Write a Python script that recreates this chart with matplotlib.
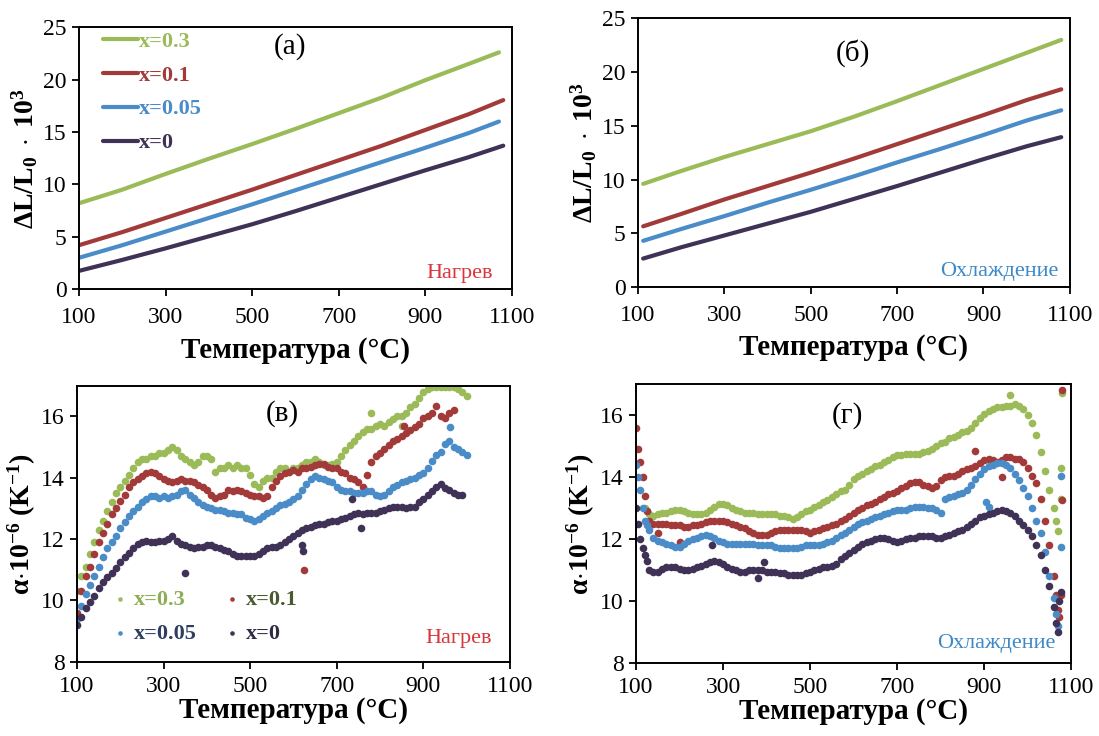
import matplotlib
matplotlib.use('Agg')
import matplotlib.pyplot as plt
import numpy as np

plt.rcParams['font.family'] = ['Liberation Serif', 'DejaVu Serif']
plt.rcParams['mathtext.fontset'] = 'custom'
plt.rcParams['mathtext.rm'] = 'Liberation Serif'
plt.rcParams['mathtext.it'] = 'Liberation Serif:italic'
plt.rcParams['mathtext.bf'] = 'Liberation Serif:bold'

# ---------------- data ----------------
labels = ['x=0.3', 'x=0.1', 'x=0.05', 'x=0']
colors = ['#9BBB59', '#A33A3A', '#4A8CC8', '#3F3256']

# (а) heating dilatometry, (T, dL/L0*1e3)
a_x03 = [(100, 8.2), (200, 9.5), (300, 11.0), (400, 12.45), (500, 13.85), (600, 15.3), (700, 16.8), (800, 18.3), (900, 19.95), (1000, 21.5), (1070, 22.6)]
a_x01 = [(100, 4.2), (200, 5.45), (300, 6.8), (400, 8.15), (500, 9.5), (600, 10.9), (700, 12.3), (800, 13.7), (900, 15.2), (1000, 16.7), (1080, 18.05)]
a_x005 = [(100, 3.0), (200, 4.2), (300, 5.5), (400, 6.8), (500, 8.1), (600, 9.45), (700, 10.8), (800, 12.15), (900, 13.5), (1000, 14.9), (1070, 16.0)]
a_x0 = [(100, 1.75), (200, 2.8), (300, 3.9), (400, 5.05), (500, 6.2), (600, 7.45), (700, 8.75), (800, 10.05), (900, 11.35), (1000, 12.6), (1080, 13.7)]

# (б) cooling dilatometry
b_x03 = [(112, 9.6), (200, 10.8), (300, 12.1), (400, 13.3), (500, 14.5), (600, 15.85), (700, 17.3), (800, 18.8), (900, 20.3), (1000, 21.8), (1080, 23.0)]
b_x01 = [(112, 5.65), (200, 6.8), (300, 8.15), (400, 9.4), (500, 10.65), (600, 11.95), (700, 13.3), (800, 14.65), (900, 16.0), (1000, 17.4), (1080, 18.4)]
b_x005 = [(112, 4.3), (200, 5.4), (300, 6.6), (400, 7.85), (500, 9.05), (600, 10.3), (700, 11.6), (800, 12.85), (900, 14.15), (1000, 15.5), (1080, 16.45)]
b_x0 = [(112, 2.65), (200, 3.7), (300, 4.8), (400, 5.9), (500, 7.0), (600, 8.2), (700, 9.4), (800, 10.65), (900, 11.9), (1000, 13.1), (1080, 13.95)]

# (в) heating CTE, sampled temperatures
heat_T = [100, 110, 120, 130, 140, 150, 160, 170, 180, 190, 200, 210, 220, 230, 240, 250, 260, 270, 280, 290,
          300, 310, 320, 330, 340, 350, 360, 370, 380, 390, 400, 410, 420, 430, 440, 450, 460, 470, 480, 490,
          500, 510, 520, 530, 540, 550, 560, 570, 580, 590, 600, 610, 620, 630, 640, 650, 660, 670, 680, 690,
          700, 710, 720, 730, 740, 750, 760, 770, 780, 790, 800, 810, 820, 830, 840, 850, 860, 870, 880, 890,
          900, 910, 920, 930, 940, 950, 960, 970, 980, 990, 1000]
v_x03 = [10.3, 10.8, 11.1, 11.5, 11.9, 12.3, 12.6, 12.9, 13.2, 13.5, 13.7, 13.9, 14.1, 14.3, 14.5, 14.6, 14.6, 14.7, 14.7, 14.8,
         14.8, 14.9, 15.0, 14.9, 14.7, 14.6, 14.5, 14.4, 14.5, 14.7, 14.7, 14.6, 14.2, 14.3, 14.3, 14.4, 14.3, 14.4, 14.3, 14.3,
         14.1, 13.8, 13.7, 13.9, 14.0, 14.0, 14.2, 14.3, 14.3, 14.2, 14.3, 14.3, 14.4, 14.5, 14.5, 14.6, 14.5, 14.4, 14.4, 14.45,
         14.5, 14.7, 14.9, 15.05, 15.2, 15.35, 15.5, 15.6, 15.6, 15.7, 15.75, 15.7, 15.8, 15.9, 16.0, 16.0, 16.1, 16.3, 16.4, 16.6,
         16.8, 16.9, 16.95, 16.95, 16.95, 16.95, 16.95, 16.95, 16.9, 16.8, 16.65]
v_x01 = [9.6, 10.3, 10.8, 11.1, 11.5, 11.9, 12.2, 12.5, 12.8, 13.0, 13.25, 13.45, 13.7, 13.85, 13.95, 14.05, 14.15, 14.2, 14.15, 14.05,
         13.95, 13.9, 13.85, 13.9, 13.95, 13.9, 13.9, 13.85, 13.75, 13.7, 13.6, 13.45, 13.35, 13.4, 13.45, 13.6, 13.55, 13.6, 13.55, 13.5,
         13.45, 13.4, 13.4, 13.35, 13.4, 13.7, 13.9, 14.05, 14.15, 14.2, 14.25, 14.2, 14.3, 14.3, 14.35, 14.4, 14.45, 14.45, 14.35, 14.3,
         14.3, 14.2, 14.15, 14.0, 13.95, 13.85, 13.7, 14.1, 14.5, 14.7, 14.8, 14.95, 15.05, 15.2, 15.25, 15.35, 15.45, 15.55, 15.65, 15.75,
         15.95, 16.0, 16.1, 16.35, 16.0, 15.95, 16.1, 16.2]
v_x005 = [9.4, 9.8, 10.2, 10.5, 10.8, 11.1, 11.4, 11.7, 11.9, 12.1, 12.35, 12.55, 12.75, 12.9, 13.05, 13.2, 13.3, 13.4, 13.4, 13.35,
          13.4, 13.35, 13.4, 13.45, 13.55, 13.6, 13.45, 13.35, 13.2, 13.1, 13.05, 13.0, 12.95, 12.95, 12.9, 12.85, 12.85, 12.8, 12.8, 12.7,
          12.65, 12.6, 12.65, 12.75, 12.85, 12.9, 13.0, 13.1, 13.15, 13.2, 13.3, 13.4, 13.6, 13.8, 13.95, 14.05, 14.0, 13.95, 13.9, 13.85,
          13.7, 13.6, 13.55, 13.55, 13.5, 13.5, 13.5, 13.55, 13.55, 13.45, 13.4, 13.45, 13.55, 13.7, 13.75, 13.85, 13.9, 13.95, 14.0, 14.1,
          14.15, 14.3, 14.55, 14.75, 14.85, 15.1, 15.2, 15.0, 14.95, 14.85, 14.75]
v_x0 = [9.2, 9.45, 9.75, 9.95, 10.15, 10.4, 10.6, 10.75, 10.9, 11.05, 11.25, 11.4, 11.55, 11.7, 11.85, 11.9, 11.95, 11.9, 11.9, 11.95,
        11.95, 12.0, 12.1, 11.95, 11.85, 11.8, 11.75, 11.7, 11.75, 11.75, 11.8, 11.8, 11.75, 11.7, 11.65, 11.6, 11.5, 11.45, 11.45, 11.45,
        11.45, 11.45, 11.5, 11.6, 11.7, 11.75, 11.75, 11.8, 11.9, 12.0, 12.1, 12.2, 12.3, 12.35, 12.4, 12.45, 12.5, 12.5, 12.55, 12.6,
        12.6, 12.65, 12.7, 12.75, 12.8, 12.85, 12.8, 12.85, 12.85, 12.85, 12.9, 12.95, 13.0, 13.05, 13.05, 13.05, 13.0, 13.05, 13.05, 13.2,
        13.3, 13.45, 13.55, 13.7, 13.8, 13.65, 13.6, 13.5, 13.45, 13.45]
heat_extra_x03 = [(780, 16.1), (850, 15.7)]
heat_extra_x01 = [(625, 11.0), (855, 15.7)]
heat_extra_x005 = [(962, 15.65)]
heat_extra_x0 = [(350, 10.9), (620, 11.8), (622, 11.6), (735, 13.3), (755, 12.35)]

# (г) cooling CTE
cool_T = [100, 105, 110, 115, 120, 125, 130, 140, 150, 160, 170, 180, 190, 200, 210, 220, 230, 240, 250, 260,
          270, 280, 290, 300, 310, 320, 330, 340, 350, 360, 370, 380, 390, 400, 410, 420, 430, 440, 450, 460,
          470, 480, 490, 500, 510, 520, 530, 540, 550, 560, 570, 580, 590, 600, 610, 620, 630, 640, 650, 660,
          670, 680, 690, 700, 710, 720, 730, 740, 750, 760, 770, 780, 790, 800, 810, 820, 830, 840, 850, 860,
          870, 880, 890, 900, 910, 920, 930, 940, 950, 960, 970, 980, 990, 1000, 1010, 1020, 1030, 1040, 1050, 1060,
          1065, 1070]
c_x03 = [None, None, None, None, 13.0, 12.9, 12.8, 12.75, 12.8, 12.85, 12.85, 12.9, 12.95, 12.95, 12.9, 12.85, 12.8, 12.8, 12.8, 12.85,
         12.95, 13.05, 13.15, 13.15, 13.1, 13.0, 12.95, 12.9, 12.85, 12.85, 12.85, 12.8, 12.8, 12.8, 12.8, 12.8, 12.75, 12.75, 12.7, 12.65,
         12.7, 12.8, 12.9, 12.95, 13.05, 13.1, 13.2, 13.25, 13.35, 13.45, 13.55, 13.6, 13.75, 13.95, 14.05, 14.1, 14.2, 14.25, 14.35, 14.4,
         14.5, 14.55, 14.65, 14.7, 14.7, 14.75, 14.75, 14.75, 14.75, 14.8, 14.85, 14.9, 15.0, 15.1, 15.15, 15.25, 15.3, 15.35, 15.45, 15.5,
         15.6, 15.75, 15.9, 16.05, 16.15, 16.2, 16.25, 16.25, 16.3, 16.3, 16.35, 16.3, 16.2, 16.0, 15.75, 15.35, 14.8, 14.2, 13.6, 13.0,
         12.6, 12.25]
c_x01 = [15.6, 14.9, 14.5, 14.0, 13.4, 12.9, 12.6, 12.5, 12.5, 12.5, 12.5, 12.45, 12.45, 12.45, 12.4, 12.4, 12.45, 12.45, 12.5, 12.55,
         12.6, 12.6, 12.6, 12.6, 12.55, 12.5, 12.45, 12.4, 12.35, 12.25, 12.2, 12.15, 12.15, 12.15, 12.2, 12.25, 12.3, 12.3, 12.3, 12.3,
         12.3, 12.3, 12.25, 12.2, 12.25, 12.3, 12.35, 12.4, 12.45, 12.5, 12.6, 12.65, 12.75, 12.85, 12.95, 13.0, 13.1, 13.15, 13.2, 13.3,
         13.35, 13.45, 13.5, 13.55, 13.65, 13.7, 13.8, 13.85, 13.85, 13.75, 13.7, 13.65, 13.7, 13.9, 14.0, 14.05, 14.05, 14.1, 14.2, 14.25,
         14.3, 14.35, 14.45, 14.55, 14.6, 14.55, 14.5, 14.55, 14.65, 14.65, 14.6, 14.6, 14.5, 14.3, 14.05, 13.8, 13.3, 12.6, 11.8, 10.8,
         10.2, 9.7]
c_x005 = [14.4, 14.0, 13.6, 13.0, 12.6, 12.45, 12.3, 12.05, 11.95, 11.9, 11.85, 11.8, 11.75, 11.75, 11.85, 11.95, 12.0, 12.05, 12.1, 12.15,
          12.1, 12.05, 11.95, 11.9, 11.85, 11.85, 11.85, 11.85, 11.85, 11.85, 11.85, 11.8, 11.8, 11.8, 11.8, 11.75, 11.7, 11.7, 11.7, 11.7,
          11.7, 11.75, 11.8, 11.8, 11.8, 11.8, 11.85, 11.9, 11.95, 12.05, 12.15, 12.2, 12.3, 12.4, 12.5, 12.55, 12.6, 12.65, 12.7, 12.75,
          12.8, 12.85, 12.9, 12.95, 12.95, 12.95, 13.0, 13.05, 13.05, 13.05, 13.0, 13.0, 12.95, 12.85, 13.3, 13.35, 13.4, 13.45, 13.5, 13.6,
          13.75, 13.95, 14.1, 14.25, 14.35, 14.4, 14.45, 14.45, 14.4, 14.3, 14.1, 13.9, 13.65, 13.4, 13.0, 12.6, 12.2, 11.6, 10.8, 10.1,
          9.6, 9.2]
c_x0 = [13.0, 12.5, 12.0, 11.7, 11.5, 11.3, 11.0, 10.95, 10.95, 11.05, 11.1, 11.1, 11.1, 11.05, 11.0, 11.0, 11.05, 11.1, 11.15, 11.2,
        11.25, 11.3, 11.25, 11.2, 11.1, 11.05, 11.0, 10.95, 10.95, 11.0, 11.0, 11.0, 11.0, 10.95, 10.95, 10.95, 10.9, 10.9, 10.85, 10.85,
        10.85, 10.85, 10.9, 10.95, 11.0, 11.05, 11.1, 11.1, 11.15, 11.2, 11.35, 11.45, 11.55, 11.65, 11.75, 11.85, 11.9, 11.95, 12.0, 12.05,
        12.05, 12.0, 11.95, 11.9, 11.95, 12.0, 12.05, 12.05, 12.1, 12.1, 12.1, 12.1, 12.05, 12.05, 12.1, 12.15, 12.2, 12.25, 12.3, 12.4,
        12.5, 12.6, 12.7, 12.75, 12.8, 12.85, 12.9, 12.95, 12.9, 12.85, 12.75, 12.6, 12.45, 12.3, 12.1, 11.8, 11.5, 11.0, 10.5, 9.8,
        9.3, 9.0]
cool_extra_x03 = [(960, 16.65), (1076, 13.3), (1077, 14.3), (1078, 16.7)]
cool_extra_x01 = [(150, 12.2), (200, 11.9), (880, 14.85), (940, 14.0), (1073, 9.5), (1077, 10.2), (1078, 13.25), (1078, 16.8)]
cool_extra_x005 = [(905, 13.2), (910, 13.05), (1077, 11.75), (1077, 14.05)]
cool_extra_x0 = [(275, 11.8), (380, 10.75), (395, 11.25), (1072, 10.0), (1076, 10.3)]

# ---------------- figure ----------------
fig = plt.figure(figsize=(10.99, 7.36), dpi=100)
ax_a = fig.add_axes([0.0718, 0.607, 0.394, 0.356])
ax_b = fig.add_axes([0.5805, 0.610, 0.393, 0.365])
ax_c = fig.add_axes([0.0700, 0.101, 0.394, 0.375])
ax_d = fig.add_axes([0.5787, 0.099, 0.396, 0.379])

xlab = 'Температура (°C)'
ylab_top = r'$\mathbf{\Delta L/L_0\ \cdot\ 10^3}$'
ylab_bot = r'$\mathbf{\alpha{\cdot}10^{-6}\ (K^{-1})}$'


def style(ax, ylim, yticks, xpad, lpad):
    ax.set_xlim(100, 1100)
    ax.set_xticks([100, 300, 500, 700, 900, 1100])
    ax.set_ylim(*ylim)
    ax.set_yticks(yticks)
    for s in ax.spines.values():
        s.set_linewidth(1.4)
        s.set_color('black')
    ax.tick_params(direction='out', length=5, width=1.3, labelsize=17)
    ax.tick_params(axis='x', pad=xpad)
    ax.tick_params(axis='y', pad=4)
    ax.set_xlabel(xlab, fontsize=21, fontweight='bold', labelpad=lpad)


for ax, sets in ((ax_a, [a_x03, a_x01, a_x005, a_x0]), (ax_b, [b_x03, b_x01, b_x005, b_x0])):
    for data, c, lab in zip(sets, colors, labels):
        xs = [p[0] for p in data]
        ys = [p[1] for p in data]
        ax.plot(xs, ys, color=c, lw=3.0, label=lab, solid_capstyle='round')
    style(ax, (0, 25), [0, 5, 10, 15, 20, 25], 8, 6)
    ax.set_ylabel(ylab_top, fontsize=20, labelpad=2)

heat_sets = [v_x03, v_x01, v_x005, v_x0]
heat_extras = [heat_extra_x03, heat_extra_x01, heat_extra_x005, heat_extra_x0]
cool_sets = [c_x03, c_x01, c_x005, c_x0]
cool_extras = [cool_extra_x03, cool_extra_x01, cool_extra_x005, cool_extra_x0]

for vals, extra, c, lab in zip(heat_sets, heat_extras, colors, labels):
    xs = heat_T[:len(vals)] + [p[0] for p in extra]
    ys = list(vals) + [p[1] for p in extra]
    ax_c.scatter(xs, ys, s=30, color=c, linewidths=0, label=lab)
for vals, extra, c, lab in zip(cool_sets, cool_extras, colors, labels):
    pairs = [(t, v) for t, v in zip(cool_T, vals) if v is not None] + list(extra)
    ax_d.scatter([p[0] for p in pairs], [p[1] for p in pairs], s=30, color=c, linewidths=0, label=lab)

for ax in (ax_c, ax_d):
    style(ax, (8, 17), [8, 10, 12, 14, 16], 5, 0)
    ax.set_ylabel(ylab_bot, fontsize=20, labelpad=2)

# panel letters
ax_a.text(0.488, 0.925, '(а)', transform=ax_a.transAxes, ha='center', va='center', fontsize=21)
ax_b.text(0.497, 0.872, '(б)', transform=ax_b.transAxes, ha='center', va='center', fontsize=21)
ax_c.text(0.474, 0.90, '(в)', transform=ax_c.transAxes, ha='center', va='center', fontsize=21)
ax_d.text(0.485, 0.887, '(г)', transform=ax_d.transAxes, ha='center', va='center', fontsize=21)

ax_a.text(0.957, 0.06, 'Нагрев', transform=ax_a.transAxes, ha='right', va='center', fontsize=16, color='#D9353A')
ax_c.text(0.958, 0.084, 'Нагрев', transform=ax_c.transAxes, ha='right', va='center', fontsize=16, color='#D9353A')
ax_b.text(0.974, 0.058, 'Охлаждение', transform=ax_b.transAxes, ha='right', va='center', fontsize=16, color='#3D89C8')
ax_d.text(0.965, 0.071, 'Охлаждение', transform=ax_d.transAxes, ha='right', va='center', fontsize=16, color='#3D89C8')

# legends
leg_a = ax_a.legend(loc='upper left', bbox_to_anchor=(0.055, 0.985), frameon=False,
                    prop={'weight': 'bold', 'size': 16}, handlelength=1.6, handletextpad=0.05,
                    labelspacing=0.6, borderpad=0, borderaxespad=0, labelcolor='linecolor')

h, l = ax_c.get_legend_handles_labels()
order = [0, 2, 1, 3]
leg_c = ax_c.legend([h[i] for i in order], [l[i] for i in order], ncol=2, loc='upper left',
                    bbox_to_anchor=(0.085, 0.262), frameon=False,
                    prop={'weight': 'bold', 'size': 16}, handlelength=0.6, handletextpad=0.3,
                    labelspacing=0.6, columnspacing=1.3, borderpad=0, borderaxespad=0,
                    markerscale=0.6)
txtcols = ['#8DAE55', '#2F3E5E', '#4B5A2E', '#2F2B45']
for t, c in zip(leg_c.get_texts(), txtcols):
    t.set_color(c)

fig.savefig('out.png', dpi=100)
